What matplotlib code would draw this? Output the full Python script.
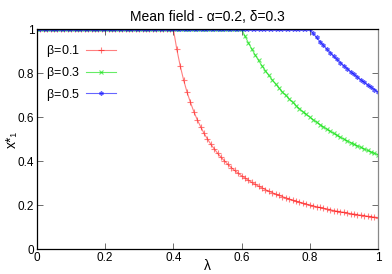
import numpy as np
import matplotlib
matplotlib.use('Agg')
from matplotlib import pyplot as plt

plt.rcParams['font.family'] = ['Liberation Sans', 'DejaVu Sans']
plt.rcParams['mathtext.fontset'] = 'custom'
plt.rcParams['mathtext.rm'] = 'Liberation Sans'
plt.rcParams['mathtext.it'] = 'Liberation Sans:italic'

# lambda grid, one point every 0.01
lam = np.linspace(0, 1, 101)

# x*_1 (flat at 1 until the knee)
red_tail = [0.909, 0.833, 0.769, 0.714, 0.667, 0.625, 0.588, 0.556, 0.526, 0.500,
            0.476, 0.455, 0.435, 0.417, 0.400, 0.385, 0.370, 0.357, 0.345, 0.333,
            0.323, 0.313, 0.303, 0.294, 0.286, 0.278, 0.270, 0.263, 0.256, 0.250,
            0.244, 0.238, 0.233, 0.227, 0.222, 0.217, 0.213, 0.208, 0.204, 0.200,
            0.196, 0.192, 0.189, 0.185, 0.182, 0.179, 0.175, 0.172, 0.169, 0.167,
            0.164, 0.161, 0.159, 0.156, 0.154, 0.152, 0.149, 0.147, 0.145, 0.143]
green_tail = [0.968, 0.938, 0.909, 0.882, 0.857, 0.833, 0.811, 0.789, 0.769, 0.750,
              0.732, 0.714, 0.698, 0.682, 0.667, 0.652, 0.638, 0.625, 0.612, 0.600,
              0.588, 0.577, 0.566, 0.556, 0.545, 0.536, 0.526, 0.517, 0.508, 0.500,
              0.492, 0.484, 0.476, 0.469, 0.462, 0.455, 0.448, 0.441, 0.435, 0.429]
blue_tail = [0.980, 0.962, 0.943, 0.926, 0.909, 0.893, 0.877, 0.862, 0.847, 0.833,
             0.820, 0.806, 0.794, 0.781, 0.769, 0.758, 0.746, 0.735, 0.725, 0.714]

beta1 = [1.0] * (101 - len(red_tail)) + red_tail
beta3 = [1.0] * (101 - len(green_tail)) + green_tail
beta5 = [1.0] * (101 - len(blue_tail)) + blue_tail

labels = ['0.1', '0.3', '0.5']
ticks = [0, 0.2, 0.4, 0.6, 0.8, 1]
tick_labels = ['0', '0.2', '0.4', '0.6', '0.8', '1']

fig = plt.figure(figsize=(3.92, 2.74), dpi=100)
ax = fig.add_axes([0.0944, 0.0912, 0.8696, 0.8028])

def lab(b):
    return 'β' + r'$\mathit{\!=\!' + b + '}$'

ax.plot(lam, beta1, color='#ff0000', lw=0.8, alpha=0.5, marker='+', ms=4, mew=0.8,
        label=lab(labels[0]))
ax.plot(lam, beta3, color='#00e000', lw=0.8, alpha=0.6, marker='x', ms=3.2, mew=0.8,
        label=lab(labels[1]))
ax.plot(lam, beta5, color='#0000ff', lw=0.8, alpha=0.6, marker=(6, 2, 0), ms=3, mew=1.0,
        label=lab(labels[2]))

ax.set_xlim(0, 1)
ax.set_ylim(0, 1)
ax.set_xticks(ticks)
ax.set_xticklabels(tick_labels)
ax.set_yticks(ticks)
ax.set_yticklabels(tick_labels)
ax.tick_params(direction='in', length=4, width=0.6, labelsize=8.5, top=True, right=True,
               pad=2, color='#555555')
for s in ax.spines.values():
    s.set_linewidth(0.9)
ax.spines['right'].set_color('#888888')

ax.set_title('Mean field - α=0.2, δ=0.3', fontsize=10, pad=6)
ax.set_xlabel('λ', fontsize=10, va='top')
ax.xaxis.set_label_coords(0.5, -0.045)
ax.set_ylabel('x*₁', fontsize=10, va='center')
ax.yaxis.set_label_coords(-0.075, 0.5)

ax.legend(loc='upper left', frameon=False, markerfirst=False, fontsize=9,
          handlelength=2.4, handletextpad=0.5, labelspacing=0.45,
          borderaxespad=0.3, bbox_to_anchor=(0.0, 0.975))

fig.savefig('out.png', dpi=100)
